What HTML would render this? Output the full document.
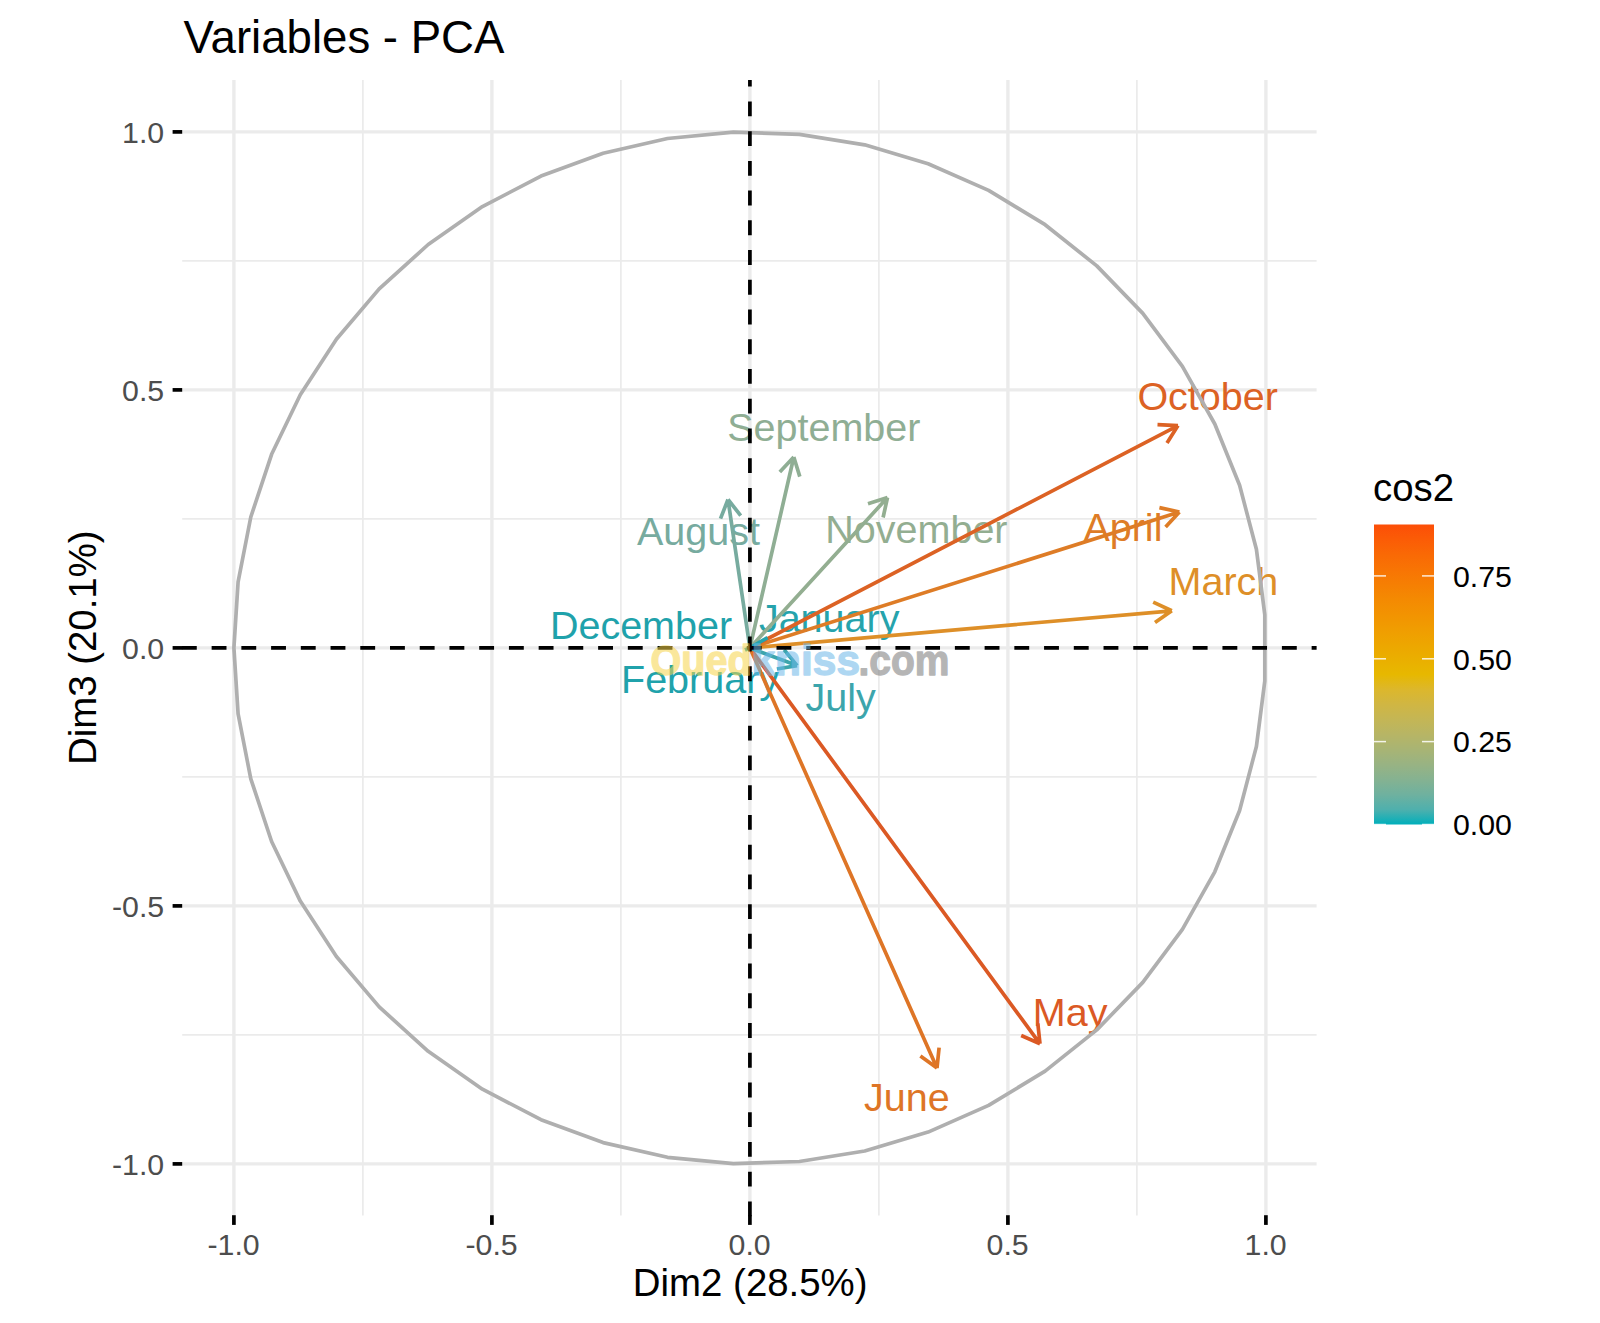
<!DOCTYPE html>
<html><head><meta charset="utf-8"><title>Variables - PCA</title>
<style>html,body{margin:0;padding:0;background:#fff}svg{display:block;font-family:"Liberation Sans",Arial,Helvetica,sans-serif}</style>
</head><body>
<svg width="1600" height="1323" viewBox="0 0 1600 1323" >
<rect width="1600" height="1323" fill="#fff"/>
<defs><linearGradient id="g" x1="0" y1="1" x2="0" y2="0">
<stop offset="0.000" stop-color="#00AFBB"/>
<stop offset="0.050" stop-color="#4FB0AD"/>
<stop offset="0.100" stop-color="#6FB19F"/>
<stop offset="0.150" stop-color="#85B291"/>
<stop offset="0.200" stop-color="#98B383"/>
<stop offset="0.250" stop-color="#A8B474"/>
<stop offset="0.300" stop-color="#B7B565"/>
<stop offset="0.350" stop-color="#C4B655"/>
<stop offset="0.400" stop-color="#D0B643"/>
<stop offset="0.450" stop-color="#DCB72C"/>
<stop offset="0.500" stop-color="#E7B800"/>
<stop offset="0.550" stop-color="#EAAF00"/>
<stop offset="0.600" stop-color="#EDA600"/>
<stop offset="0.650" stop-color="#F09D01"/>
<stop offset="0.700" stop-color="#F29301"/>
<stop offset="0.750" stop-color="#F48A02"/>
<stop offset="0.800" stop-color="#F67F03"/>
<stop offset="0.850" stop-color="#F87404"/>
<stop offset="0.900" stop-color="#F96905"/>
<stop offset="0.950" stop-color="#FB5C06"/>
<stop offset="1.000" stop-color="#FC4E07"/>
</linearGradient></defs>
<g stroke="#EBEBEB" stroke-width="1.7">
<line x1="362.9" y1="80.1" x2="362.9" y2="1215.4"/>
<line x1="182.2" y1="1034.9" x2="1316.6" y2="1034.9"/>
<line x1="620.9" y1="80.1" x2="620.9" y2="1215.4"/>
<line x1="182.2" y1="776.9" x2="1316.6" y2="776.9"/>
<line x1="878.9" y1="80.1" x2="878.9" y2="1215.4"/>
<line x1="182.2" y1="518.9" x2="1316.6" y2="518.9"/>
<line x1="1136.9" y1="80.1" x2="1136.9" y2="1215.4"/>
<line x1="182.2" y1="260.9" x2="1316.6" y2="260.9"/>
</g>
<g stroke="#EBEBEB" stroke-width="3.4">
<line x1="233.9" y1="80.1" x2="233.9" y2="1215.4"/>
<line x1="182.2" y1="1163.9" x2="1316.6" y2="1163.9"/>
<line x1="491.9" y1="80.1" x2="491.9" y2="1215.4"/>
<line x1="182.2" y1="905.9" x2="1316.6" y2="905.9"/>
<line x1="749.9" y1="80.1" x2="749.9" y2="1215.4"/>
<line x1="182.2" y1="647.9" x2="1316.6" y2="647.9"/>
<line x1="1007.9" y1="80.1" x2="1007.9" y2="1215.4"/>
<line x1="182.2" y1="389.9" x2="1316.6" y2="389.9"/>
<line x1="1265.9" y1="80.1" x2="1265.9" y2="1215.4"/>
<line x1="182.2" y1="131.9" x2="1316.6" y2="131.9"/>
</g>
<g font-size="39.5">
<text x="621.0" y="693.1" fill="#20A2AB">February</text>
<text x="1168.6" y="594.9" fill="#DE8F28">March</text>
<text x="1083.4" y="540.8" fill="#DE7C26">April</text>
<text x="1032.8" y="1026.1" fill="#DB5924">May</text>
<text x="864.0" y="1111.0" fill="#DE7526">June</text>
<text x="805.6" y="711.0" fill="#3CA5AC">July</text>
<text x="637.0" y="545.0" fill="#77AB9F">August</text>
<text x="727.2" y="440.6" fill="#8FAE94">September</text>
<text x="1137.4" y="409.7" fill="#DC6224">October</text>
<text x="825.3" y="542.5" fill="#93AE91">November</text>
<text x="549.9" y="638.6" fill="#1FA2AB">December</text>
<text x="758.9" y="631.5" fill="#26A3AC">January</text>
</g>
<g fill="none" stroke-width="3.7" stroke-linejoin="miter" stroke-linecap="butt">
<path d="M749.9,647.9L745.0,650.0" stroke="#20A2AB"/>
<path d="M749.9,647.9L1171.8,610.8M1153.2,602.1L1171.8,610.8M1155.0,622.6L1171.8,610.8" stroke="#DE8F28"/>
<path d="M749.9,647.9L1179.4,512.0M1159.4,507.6L1179.4,512.0M1165.6,527.1L1179.4,512.0" stroke="#DE7C26"/>
<path d="M749.9,647.9L1040.0,1043.8M1037.8,1023.4L1040.0,1043.8M1021.2,1035.5L1040.0,1043.8" stroke="#DB5924"/>
<path d="M749.9,647.9L937.0,1068.0M939.1,1047.6L937.0,1068.0M920.4,1056.0L937.0,1068.0" stroke="#DE7526"/>
<path d="M749.9,647.9L797.1,665.6M784.1,649.8L797.1,665.6M776.9,669.0L797.1,665.6" stroke="#3CA5AC"/>
<path d="M749.9,647.9L728.0,499.5M720.5,518.6L728.0,499.5M740.7,515.6L728.0,499.5" stroke="#77AB9F"/>
<path d="M749.9,647.9L793.8,457.0M779.8,472.0L793.8,457.0M799.8,476.6L793.8,457.0" stroke="#8FAE94"/>
<path d="M749.9,647.9L1178.0,425.6M1157.5,424.7L1178.0,425.6M1167.0,442.9L1178.0,425.6" stroke="#DC6224"/>
<path d="M749.9,647.9L887.5,497.5M868.0,503.7L887.5,497.5M883.1,517.5L887.5,497.5" stroke="#93AE91"/>
<path d="M749.9,647.9L752.0,645.0" stroke="#1FA2AB"/>
<path d="M749.9,647.9L767.5,637.6" stroke="#26A3AC"/>
</g>
<polygon points="233.9,647.9 238.1,713.9 250.8,778.8 271.6,841.5 300.3,901.1 336.4,956.5 379.2,1006.9 428.2,1051.3 482.4,1089.2 541.0,1119.7 603.1,1142.6 667.5,1157.3 733.4,1163.6 799.4,1161.5 864.7,1151.0 928.1,1132.1 988.6,1105.4 1045.1,1071.1 1096.8,1029.9 1142.8,982.4 1182.4,929.4 1214.8,871.8 1239.6,810.5 1256.4,746.5 1264.8,681.0 1264.8,614.8 1256.4,549.3 1239.6,485.3 1214.8,424.0 1182.4,366.4 1142.8,313.4 1096.8,265.9 1045.1,224.7 988.6,190.4 928.1,163.7 864.7,144.8 799.4,134.3 733.4,132.2 667.5,138.5 603.1,153.2 541.0,176.1 482.4,206.6 428.2,244.5 379.2,288.9 336.4,339.3 300.3,394.7 271.6,454.3 250.8,517.0 238.1,581.9" fill="none" stroke="#AFAFAF" stroke-width="3.7" stroke-linejoin="round"/>
<g stroke="#000" stroke-width="3.7" stroke-dasharray="14.865 14.865">
<line x1="181.9" y1="647.9" x2="1316.6" y2="647.9"/>
<line x1="749.9" y1="1216.3" x2="749.9" y2="80.1"/>
</g>
<g stroke="#000" stroke-width="3.7">
<line x1="172.6" y1="1163.9" x2="182.2" y2="1163.9"/>
<line x1="233.9" y1="1215.2" x2="233.9" y2="1224.9"/>
<line x1="172.6" y1="905.9" x2="182.2" y2="905.9"/>
<line x1="491.9" y1="1215.2" x2="491.9" y2="1224.9"/>
<line x1="172.6" y1="647.9" x2="182.2" y2="647.9"/>
<line x1="749.9" y1="1215.2" x2="749.9" y2="1224.9"/>
<line x1="172.6" y1="389.9" x2="182.2" y2="389.9"/>
<line x1="1007.9" y1="1215.2" x2="1007.9" y2="1224.9"/>
<line x1="172.6" y1="131.9" x2="182.2" y2="131.9"/>
<line x1="1265.9" y1="1215.2" x2="1265.9" y2="1224.9"/>
</g>
<g font-size="30.3" fill="#4D4D4D">
<text x="164.2" y="1174.7" text-anchor="end">-1.0</text>
<text x="233.6" y="1254.9" text-anchor="middle">-1.0</text>
<text x="164.2" y="916.7" text-anchor="end">-0.5</text>
<text x="491.6" y="1254.9" text-anchor="middle">-0.5</text>
<text x="164.2" y="658.7" text-anchor="end">0.0</text>
<text x="749.6" y="1254.9" text-anchor="middle">0.0</text>
<text x="164.2" y="400.7" text-anchor="end">0.5</text>
<text x="1007.6" y="1254.9" text-anchor="middle">0.5</text>
<text x="164.2" y="142.7" text-anchor="end">1.0</text>
<text x="1265.6" y="1254.9" text-anchor="middle">1.0</text>
</g>
<g opacity="0.55" stroke-width="1.3" stroke-linejoin="round" font-weight="bold" font-size="43">
<text x="650.6" y="675.2" textLength="101.0" lengthAdjust="spacingAndGlyphs" fill="#F7D54A" stroke="#F7D54A">Oued</text>
<text x="751.5" y="675.2" textLength="108.5" lengthAdjust="spacingAndGlyphs" fill="#6DB8E8" stroke="#6DB8E8">kniss</text>
<text x="858.5" y="675.2" textLength="91.0" lengthAdjust="spacingAndGlyphs" fill="#7A7A7A" stroke="#7A7A7A">.com</text>
</g>
<text x="183.5" y="52.5" font-size="45.6" fill="#000">Variables - PCA</text>
<text x="750.2" y="1296.4" font-size="38.4" fill="#000" text-anchor="middle">Dim2 (28.5%)</text>
<text transform="translate(95.6,647.7) rotate(-90)" font-size="38.4" fill="#000" text-anchor="middle">Dim3 (20.1%)</text>
<text x="1373" y="501" font-size="38.4" fill="#000">cos2</text>
<rect x="1374" y="524.5" width="60" height="300" fill="url(#g)"/>
<g stroke="#fff" stroke-width="1.5" opacity="0.85">
<line x1="1374" y1="824.5" x2="1386" y2="824.5"/>
<line x1="1422" y1="824.5" x2="1434" y2="824.5"/>
<line x1="1374" y1="741.6" x2="1386" y2="741.6"/>
<line x1="1422" y1="741.6" x2="1434" y2="741.6"/>
<line x1="1374" y1="658.8" x2="1386" y2="658.8"/>
<line x1="1422" y1="658.8" x2="1434" y2="658.8"/>
<line x1="1374" y1="575.9" x2="1386" y2="575.9"/>
<line x1="1422" y1="575.9" x2="1434" y2="575.9"/>
</g>
<g font-size="30.3" fill="#000">
<text x="1453" y="835.3">0.00</text>
<text x="1453" y="752.4">0.25</text>
<text x="1453" y="669.6">0.50</text>
<text x="1453" y="586.7">0.75</text>
</g>
</svg>
</body></html>
